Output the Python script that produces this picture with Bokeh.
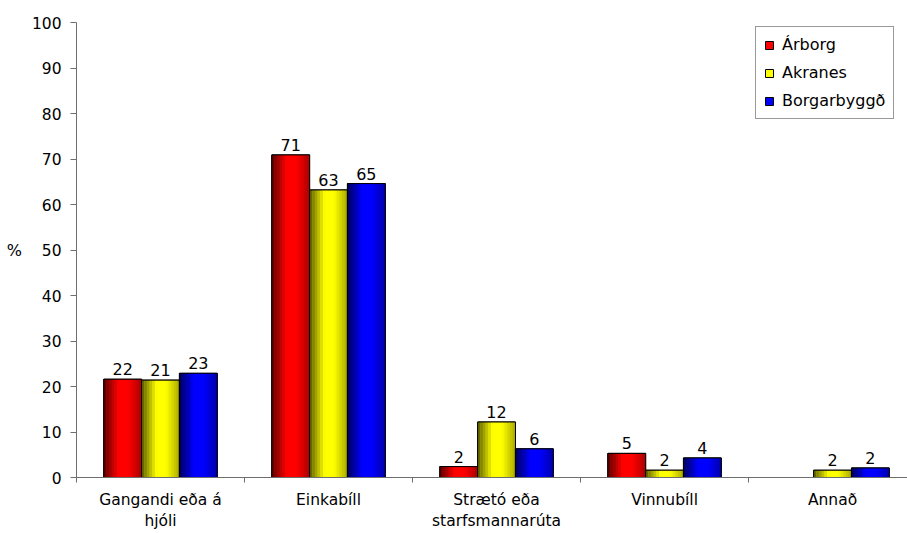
from bokeh.plotting import figure
from bokeh.models import Range1d, FixedTicker, Legend, LegendItem
from bokeh.core.properties import value
from bokeh.embed import file_html
from bokeh.resources import INLINE

# ---- data ----
categories = ["Gangandi eða á\nhjóli", "Einkabíll", "Strætó eða\nstarfsmannarúta", "Vinnubíll", "Annað"]
series_names = ["Árborg", "Akranes", "Borgarbyggð"]
arborg = [21.6, 70.9, 2.4, 5.3, 0.0]
akranes = [21.4, 63.2, 12.2, 1.6, 1.6]
borgarbyggd = [22.9, 64.6, 6.3, 4.3, 2.1]
series_values = [arborg, akranes, borgarbyggd]
series_rgb = [(255, 0, 0), (255, 255, 0), (0, 0, 255)]
y_ticks = list(range(0, 101, 10))

FONT = "DejaVu Sans"
AXIS_COLOR = "#6e6e6e"

p = figure(width=907, height=533, output_backend="svg", toolbar_location=None,
           x_range=Range1d(0, 4.946), y_range=Range1d(0, 100),
           min_border_left=76, min_border_top=22, min_border_right=0, min_border_bottom=54)
p.outline_line_color = None
p.grid.visible = False
p.background_fill_color = "white"

centers = [i + 0.5 for i in range(len(categories))]
W = 0.225
N = 14


def shade(rgb, t):
    if t < 0.4:
        f = 0.35 + 0.65 * (t / 0.4)
    elif t <= 0.65:
        f = 1.0
    else:
        f = 1.0 - 0.33 * ((t - 0.65) / 0.35)
    r, g, b = (int(round(c * f)) for c in rgb)
    return "#%02x%02x%02x" % (r, g, b)


legend_items = []
for s, (name, vals, rgb) in enumerate(zip(series_names, series_values, series_rgb)):
    off = (s - 1) * W
    xs = [c + off for c, v in zip(centers, vals) if v > 0]
    tops = [v for v in vals if v > 0]
    base_color = "#%02x%02x%02x" % rgb
    base = p.vbar(x=xs, top=tops, bottom=0, width=W, fill_color=base_color,
                  line_color="black", line_width=1)
    legend_items.append(LegendItem(label=name, renderers=[base]))
    for k in range(N):
        t = (k + 0.5) / N
        sx = [x - W / 2 + (k + 0.5) * W / N for x in xs]
        p.vbar(x=sx, top=tops, bottom=0, width=W / N * 1.15,
               fill_color=shade(rgb, t), line_color=None)
    p.vbar(x=xs, top=tops, bottom=0, width=W, fill_color=None,
           line_color="black", line_width=1)
    labels = ["%.0f" % v for v in tops]
    p.text(x=xs, y=tops, text=labels, text_align="center", text_baseline="alphabetic",
           y_offset=-10, text_font=value(FONT), text_font_size="16px", text_color="black")

# ---- axes ----
xa = p.xaxis[0]
xa.ticker = FixedTicker(ticks=centers, minor_ticks=[0, 1, 2, 3, 4])
xa.major_label_overrides = {c: lab for c, lab in zip(centers, categories)}
xa.major_tick_out = 0
xa.major_tick_in = 0
xa.minor_tick_out = 5
xa.minor_tick_in = 0
xa.minor_tick_line_color = AXIS_COLOR
xa.axis_line_color = AXIS_COLOR
xa.major_label_standoff = 8
xa.major_label_text_font = FONT
xa.major_label_text_font_size = "15.5px"
xa.major_label_text_color = "black"

ya = p.yaxis[0]
ya.ticker = FixedTicker(ticks=y_ticks)
ya.major_tick_out = 6
ya.major_tick_in = 0
ya.minor_tick_line_color = None
ya.axis_line_color = AXIS_COLOR
ya.major_tick_line_color = AXIS_COLOR
ya.major_label_standoff = 9
ya.major_label_text_font = FONT
ya.major_label_text_font_size = "15.5px"
ya.major_label_text_color = "black"
ya.axis_label = "%"
ya.axis_label_orientation = "horizontal"
ya.axis_label_text_font = FONT
ya.axis_label_text_font_size = "16px"
ya.axis_label_text_font_style = "normal"
ya.axis_label_text_color = "black"
ya.axis_label_standoff = 7

legend = Legend(items=legend_items, location=(679, 358),
                label_text_font=FONT, label_text_font_size="16px",
                label_text_color="black",
                glyph_width=10, glyph_height=10, label_standoff=8,
                padding=8, spacing=9, label_height=18, margin=0,
                border_line_color="#333333", border_line_width=1,
                background_fill_color="white", background_fill_alpha=1.0)
p.add_layout(legend)

open("out.html", "w").write(file_html(p, INLINE))
